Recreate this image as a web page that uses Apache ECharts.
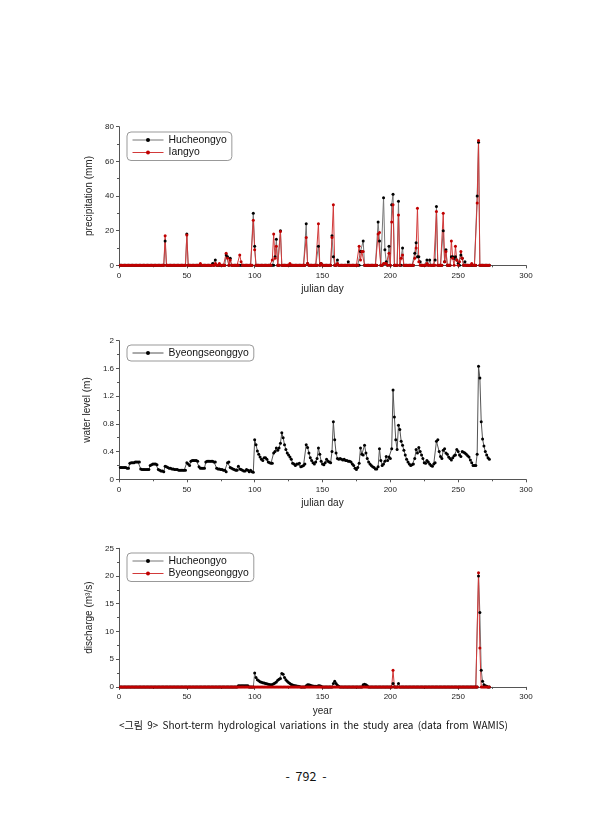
<!DOCTYPE html>
<html>
<head>
<meta charset="utf-8">
<script src="https://cdn.jsdelivr.net/npm/echarts@6.0.0/dist/echarts.min.js"></script>
<style>
    body { margin: 0; background: #fff; width: 613px; height: 840px; position: relative; overflow: hidden; }
    .chart { position: absolute; left: 0; width: 613px; height: 200px; }
    .caption { position: absolute; left: 0; width: 627px; text-align: center; top: 717px; line-height: 16px;
        font-family: "Noto Sans CJK KR", sans-serif; font-size: 10px; color: #111; word-spacing: 2px; }
    .pageno { position: absolute; left: 0; width: 612px; text-align: center; top: 768px; line-height: 16px;
        font-family: "Noto Sans CJK KR", sans-serif; font-size: 12.5px; color: #111; word-spacing: 3px; }
</style>
</head>
<body>
<div id="c1" class="chart" style="top:100px"></div>
<div id="c2" class="chart" style="top:314px"></div>
<div id="c3" class="chart" style="top:522px"></div>
<div class="caption">&lt;그림 9&gt; Short-term hydrological variations in the study area (data from WAMIS)</div>
<div class="pageno">- 792 -</div>
<script type="text/javascript">
    // days 1..273 (Jan 1 - Sep 30); days not listed read as 0 on the plots
    var lastDay = 273;

    // precipitation (mm)
    var hucheongyoRainDays = [34, 50, 69, 71, 79, 80, 82, 99, 100, 115, 116, 119, 138, 139, 147, 149, 157, 158, 161, 169,
        178, 179, 180, 191, 192, 195, 196, 197, 199, 201, 202, 206, 209, 218, 219, 220, 221, 222, 227, 229, 233, 234,
        239, 240, 241, 245, 246, 247, 248, 249, 250, 252, 253, 255, 264, 265];
    var hucheongyoRain = [14, 18, 1, 3, 6, 5, 4, 30, 11, 5, 15, 20, 24, 1, 11, 1, 17, 5, 3, 2,
        8, 8, 14, 25, 14, 39, 9, 2, 11, 35, 41, 37, 10, 7, 13, 5, 5, 2, 3, 3, 3, 34,
        20, 2, 9, 5, 5, 4, 5, 3, 1, 6, 4, 2, 40, 71];
    var iangyoRainDays = [34, 50, 60, 71, 74, 79, 80, 82, 89, 90, 99, 100, 113, 114, 115, 116, 119, 126, 138, 139, 147,
        149, 157, 158, 161, 177, 178, 179, 180, 191, 192, 195, 196, 197, 199, 201, 202, 206, 208, 209, 218, 219, 220,
        221, 227, 234, 239, 240, 241, 245, 246, 248, 249, 251, 252, 253, 260, 264, 265];
    var iangyoRain = [17, 17.5, 1, 1, 1, 7, 4, 3, 6, 2, 26, 9, 3, 18, 4, 11, 19.5, 1, 16, 1, 24,
        1, 16, 35, 1, 11, 3, 8, 8, 18, 19, 1, 1, 1, 7, 25, 35, 29, 4, 6, 4, 10, 33,
        2, 1, 31, 30, 2, 8, 14, 4, 11, 3, 2, 8, 4, 1, 36, 72];

    // water level (m), Byeongseonggyo, day 1..273
    var waterLevel = [
        0.17, 0.17, 0.17, 0.17, 0.17, 0.16, 0.16, 0.23, 0.24, 0.24,
        0.24, 0.25, 0.25, 0.25, 0.25, 0.15, 0.14, 0.14, 0.14, 0.14,
        0.14, 0.14, 0.20, 0.21, 0.22, 0.22, 0.22, 0.21, 0.14, 0.13,
        0.12, 0.12, 0.11, 0.19, 0.18, 0.17, 0.16, 0.16, 0.15, 0.15,
        0.14, 0.14, 0.14, 0.13, 0.13, 0.13, 0.13, 0.13, 0.13, 0.24,
        0.22, 0.20, 0.26, 0.27, 0.27, 0.27, 0.27, 0.26, 0.18, 0.16,
        0.16, 0.16, 0.16, 0.25, 0.26, 0.26, 0.26, 0.26, 0.26, 0.25,
        0.25, 0.16, 0.15, 0.15, 0.14, 0.14, 0.13, 0.13, 0.11, 0.24,
        0.25, 0.17, 0.16, 0.15, 0.14, 0.13, 0.13, 0.19, 0.15, 0.14,
        0.13, 0.12, 0.12, 0.14, 0.13, 0.11, 0.13, 0.11, 0.10, 0.57,
        0.50, 0.41, 0.36, 0.32, 0.29, 0.27, 0.31, 0.31, 0.29, 0.25,
        0.24, 0.23, 0.23, 0.38, 0.40, 0.45, 0.42, 0.45, 0.52, 0.67,
        0.60, 0.50, 0.43, 0.38, 0.35, 0.32, 0.29, 0.23, 0.22, 0.20,
        0.22, 0.22, 0.23, 0.18, 0.19, 0.20, 0.22, 0.50, 0.46, 0.38,
        0.31, 0.27, 0.24, 0.22, 0.25, 0.30, 0.45, 0.36, 0.26, 0.22,
        0.21, 0.24, 0.29, 0.26, 0.25, 0.24, 0.40, 0.83, 0.57, 0.38,
        0.30, 0.29, 0.30, 0.29, 0.28, 0.29, 0.27, 0.27, 0.26, 0.26,
        0.25, 0.22, 0.20, 0.16, 0.14, 0.17, 0.23, 0.45, 0.36, 0.35,
        0.49, 0.38, 0.30, 0.25, 0.22, 0.20, 0.18, 0.17, 0.15, 0.15,
        0.18, 0.44, 0.27, 0.20, 0.22, 0.26, 0.33, 0.27, 0.32, 0.30,
        0.44, 1.29, 0.90, 0.57, 0.43, 0.78, 0.72, 0.55, 0.49, 0.42,
        0.35, 0.29, 0.25, 0.22, 0.20, 0.21, 0.22, 0.30, 0.43, 0.38,
        0.46, 0.40, 0.35, 0.30, 0.24, 0.23, 0.27, 0.25, 0.22, 0.20,
        0.19, 0.22, 0.24, 0.55, 0.57, 0.40, 0.33, 0.30, 0.42, 0.44,
        0.38, 0.36, 0.32, 0.30, 0.28, 0.31, 0.34, 0.35, 0.43, 0.40,
        0.35, 0.33, 0.40, 0.39, 0.38, 0.36, 0.34, 0.32, 0.28, 0.24,
        0.20, 0.20, 0.20, 0.36, 1.63, 1.46, 0.83, 0.58, 0.48, 0.40,
        0.35, 0.31, 0.29
    ];

    // discharge (m3/s)
    var hucheongyoFlowDays = [88, 89, 90, 91, 92, 93, 94, 95,
        100, 101, 102, 103, 104, 105, 106, 107, 108, 109, 110, 111, 112, 113, 114, 115, 116, 117, 118, 119, 120,
        121, 122, 123, 124, 125, 126, 127, 128, 129, 130, 131, 132, 133,
        138, 139, 140, 141, 142, 143, 144, 145, 146, 147, 148, 149,
        158, 159, 160, 161, 162, 180, 181, 182, 183, 202, 206,
        265, 266, 267, 268, 269, 270, 271];
    var hucheongyoFlow = [0.2, 0.2, 0.2, 0.2, 0.2, 0.2, 0.2, 0.2,
        2.5, 1.7, 1.3, 1.1, 0.95, 0.85, 0.75, 0.7, 0.6, 0.55, 0.5, 0.45, 0.4, 0.45, 0.55, 0.7, 0.9, 1.2, 1.4, 1.5, 2.4,
        2.3, 1.7, 1.3, 1.0, 0.8, 0.6, 0.45, 0.35, 0.25, 0.2, 0.15, 0.1, 0.05,
        0.2, 0.4, 0.4, 0.3, 0.2, 0.15, 0.1, 0.1, 0.1, 0.2, 0.2, 0.1,
        0.6, 1.0, 0.6, 0.3, 0.1, 0.4, 0.5, 0.4, 0.2, 0.6, 0.6,
        20, 13.4, 3.0, 1.0, 0.4, 0.2, 0.1];
    var byeongFlowDays = [202, 265, 266];
    var byeongFlow = [3.0, 20.6, 7.0];

    function daily(days, vals) {
        var out = [];
        for (var d = 1; d <= lastDay; d++) {
            var k = days.indexOf(d);
            out.push([d, k < 0 ? 0 : vals[k]]);
        }
        return out;
    }
    function dailyList(vals) {
        return vals.map(function (v, i) { return [i + 1, v]; });
    }

    var font = '"Liberation Sans", Arial, sans-serif';

    function lineSeries(name, data, lineColor, dotColor) {
        return {
            name: name, type: 'line', data: data,
            symbol: 'circle', symbolSize: 3, showSymbol: true,
            lineStyle: { color: lineColor, width: 1 },
            itemStyle: { color: dotColor },
            emphasis: { disabled: true }
        };
    }

    function axisCommon() {
        return {
            axisLine: { show: true, lineStyle: { color: '#555', width: 1 } },
            axisTick: { show: true, length: 3, lineStyle: { color: '#555' } },
            minorTick: { show: true, splitNumber: 2, length: 2, lineStyle: { color: '#555' } },
            splitLine: { show: false },
            minorSplitLine: { show: false },
            nameTextStyle: { fontFamily: font, fontSize: 10, color: '#222' }
        };
    }

    function makeOption(o) {
        var xa = axisCommon();
        xa.type = 'value'; xa.min = 0; xa.max = 300; xa.interval = 50;
        xa.name = o.xName; xa.nameLocation = 'middle'; xa.nameGap = o.xNameGap;
        xa.axisLabel = { fontFamily: font, fontSize: 8, color: '#222', margin: 6 };
        var ya = axisCommon();
        ya.type = 'value'; ya.min = 0; ya.max = o.yMax; ya.interval = o.yStep;
        ya.name = o.yName; ya.nameLocation = 'middle'; ya.nameGap = o.yNameGap;
        ya.axisLabel = { fontFamily: font, fontSize: 8, color: '#222', margin: 5 };
        return {
            animation: false,
            backgroundColor: '#fff',
            grid: { left: 119, width: 407, top: o.top, height: 138.6, outerBoundsMode: 'none' },
            legend: {
                left: 127, top: o.legendTop, orient: 'vertical',
                data: o.legend,
                itemWidth: 31, itemHeight: 5, itemGap: 2.5,
                padding: [3, 5, 3, 5],
                lineStyle: { width: 1 },
                borderColor: '#999', borderWidth: 1, borderRadius: 4,
                textStyle: { fontFamily: font, fontSize: 10.4, color: '#111' },
                selectedMode: false
            },
            xAxis: xa,
            yAxis: ya,
            series: o.series
        };
    }

    var chart1 = echarts.init(document.getElementById('c1'));
    chart1.setOption(makeOption({
        top: 26.7, legendTop: 32, yMax: 80, yStep: 20,
        yName: 'precipitation (mm)', yNameGap: 14, xName: 'julian day', xNameGap: 14,
        legend: ['Hucheongyo', 'Iangyo'],
        series: [
            lineSeries('Hucheongyo', daily(hucheongyoRainDays, hucheongyoRain), '#777', '#000'),
            lineSeries('Iangyo', daily(iangyoRainDays, iangyoRain), '#d23a3a', '#c00000')
        ]
    }));

    var chart2 = echarts.init(document.getElementById('c2'));
    chart2.setOption(makeOption({
        top: 26.7, legendTop: 31, yMax: 2, yStep: 0.4,
        yName: 'water level (m)', yNameGap: 19, xName: 'julian day', xNameGap: 14,
        legend: ['Byeongseonggyo'],
        series: [
            lineSeries('Byeongseonggyo', dailyList(waterLevel), '#555', '#000')
        ]
    }));

    var chart3 = echarts.init(document.getElementById('c3'));
    chart3.setOption(makeOption({
        top: 26.3, legendTop: 31, yMax: 25, yStep: 5,
        yName: 'discharge (m\u00b3/s)', yNameGap: 14, xName: 'year', xNameGap: 13.5,
        legend: ['Hucheongyo', 'Byeongseonggyo'],
        series: [
            lineSeries('Hucheongyo', daily(hucheongyoFlowDays, hucheongyoFlow), '#777', '#000'),
            lineSeries('Byeongseonggyo', daily(byeongFlowDays, byeongFlow), '#d23a3a', '#c00000')
        ]
    }));
</script>
</body>
</html>
